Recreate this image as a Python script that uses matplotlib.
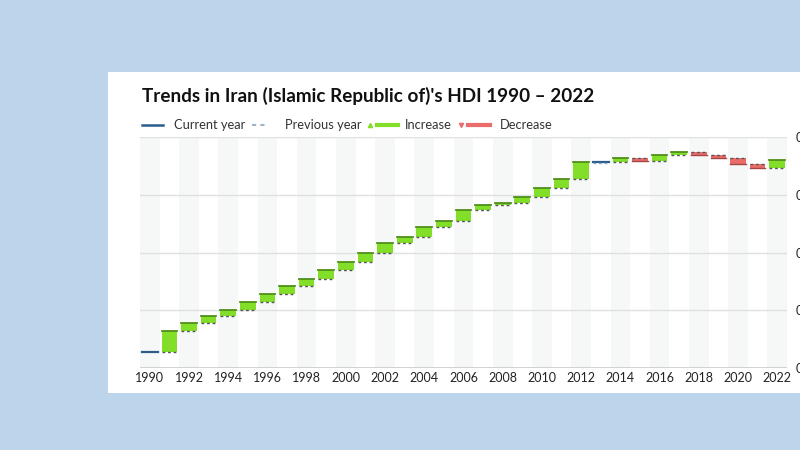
import matplotlib
matplotlib.use("Agg")
import matplotlib.pyplot as plt
from matplotlib.patches import Rectangle
from matplotlib.lines import Line2D

# HDI values
years = list(range(1990, 2023))
hdi = [0.614, 0.632, 0.639, 0.645, 0.650, 0.657, 0.664, 0.671, 0.677, 0.685,
       0.692, 0.700, 0.708, 0.713, 0.722, 0.727, 0.737, 0.741, 0.743, 0.748,
       0.756, 0.764, 0.778, 0.778, 0.782, 0.779, 0.784, 0.787, 0.784, 0.782,
       0.777, 0.773, 0.780]
ytick_vals = [0.6, 0.65, 0.7, 0.75, 0.8]
ytick_labels = ["0.6", "0.65", "0.7", "0.75", "0.8"]
xtick_years = list(range(1990, 2023, 2))

title = "Trends in Iran (Islamic Republic of)'s HDI 1990 \u2013 2022"

BG = "#bdd5ea"
GREEN = "#82de28"
GREEN_DARK = "#4f8f1a"
RED = "#ea6d6b"
RED_DARK = "#a84646"
BLUE = "#2b5d8c"
DASH = "#555555"

plt.rcParams['font.family'] = ['Lato', 'DejaVu Sans']

fig = plt.figure(figsize=(8, 4.5), dpi=100)
fig.patch.set_facecolor(BG)

# white card behind everything
card = Rectangle((108 / 800, 57 / 450), 1.0, 321 / 450,
                 transform=fig.transFigure, facecolor="white",
                 edgecolor="none", zorder=-10)
fig.patches.append(card)

ax = fig.add_axes([140 / 800, 82 / 450, 647 / 800, 231 / 450])
ax.set_zorder(5)
ax.set_facecolor("white")
ax.set_xlim(1989.5, 2022.5)
ax.set_ylim(0.6, 0.8)

# alternating column bands (very faint)
for i, yr in enumerate(years):
    if i % 2 == 0:
        ax.axvspan(yr - 0.5, yr + 0.5, color="#f6f7f7", zorder=0, lw=0)

for v in ytick_vals:
    ax.axhline(v, color="#e0e0e0", lw=1, zorder=1)
ax.axhline(0.6, color="#cccccc", lw=1.2, zorder=1)

w = 0.8
for i, yr in enumerate(years):
    cur = hdi[i]
    x0 = yr - w / 2
    if i == 0 or abs(cur - hdi[i - 1]) < 1e-9:
        ax.plot([x0, x0 + w], [cur, cur], color=BLUE, lw=1.6, zorder=4)
        if i > 0:
            ax.plot([x0, x0 + w], [cur - 0.0007, cur - 0.0007], color="#8fa6bd",
                    lw=1, ls=(0, (2, 2)), zorder=4)
        continue
    prev = hdi[i - 1]
    if cur > prev:
        ax.add_patch(Rectangle((x0, prev), w, cur - prev, facecolor=GREEN,
                               edgecolor="none", zorder=3))
        ax.plot([x0, x0 + w], [cur, cur], color=GREEN_DARK, lw=1.3, zorder=4)
    else:
        ax.add_patch(Rectangle((x0, cur), w, prev - cur, facecolor=RED,
                               edgecolor="none", zorder=3))
        ax.plot([x0, x0 + w], [cur, cur], color=RED_DARK, lw=1.0, zorder=4)
    ax.plot([x0, x0 + w], [prev, prev], color=DASH, lw=1, ls=(0, (2, 2)), zorder=5)

ax.set_xticks(xtick_years)
ax.set_xticklabels([str(y) for y in xtick_years], fontsize=9, color="#222222")
ax.set_yticks(ytick_vals)
ax.set_yticklabels(ytick_labels, fontsize=9, color="#222222")
ax.yaxis.tick_right()
ax.tick_params(axis="both", length=0)
ax.tick_params(axis="y", pad=6)
ax.tick_params(axis="x", pad=3)
for s in ax.spines.values():
    s.set_visible(False)

# title
fig.text(142 / 800, 1 - 96 / 450, title, fontsize=13.6, fontweight="bold",
         color="#111111", va="center", ha="left")

# legend drawn by hand
ly = 1 - 125 / 450


def fx(px):
    return px / 800


fig.lines.append(Line2D([fx(142), fx(163)], [ly, ly], color=BLUE, lw=1.8,
                        transform=fig.transFigure))
fig.text(fx(174), ly, "Current year", fontsize=9.3, color="#333333", va="center")
fig.lines.append(Line2D([fx(252), fx(268)], [ly, ly], color="#9fb4c8", lw=1.5,
                        ls=(0, (2, 2)), transform=fig.transFigure))
fig.text(fx(285), ly, "Previous year", fontsize=9.3, color="#333333", va="center")
fig.lines.append(Line2D([fx(370)], [ly], color=GREEN, marker="^", ms=3, lw=0,
                        transform=fig.transFigure))
fig.lines.append(Line2D([fx(377), fx(398)], [ly, ly], color=GREEN, lw=3,
                        transform=fig.transFigure))
fig.text(fx(405), ly, "Increase", fontsize=9.3, color="#333333", va="center")
fig.lines.append(Line2D([fx(461)], [ly], color=RED, marker="v", ms=3, lw=0,
                        transform=fig.transFigure))
fig.lines.append(Line2D([fx(468), fx(490)], [ly, ly], color=RED, lw=3,
                        transform=fig.transFigure))
fig.text(fx(500), ly, "Decrease", fontsize=9.3, color="#333333", va="center")

fig.savefig("out.png", dpi=100, facecolor=fig.get_facecolor())
